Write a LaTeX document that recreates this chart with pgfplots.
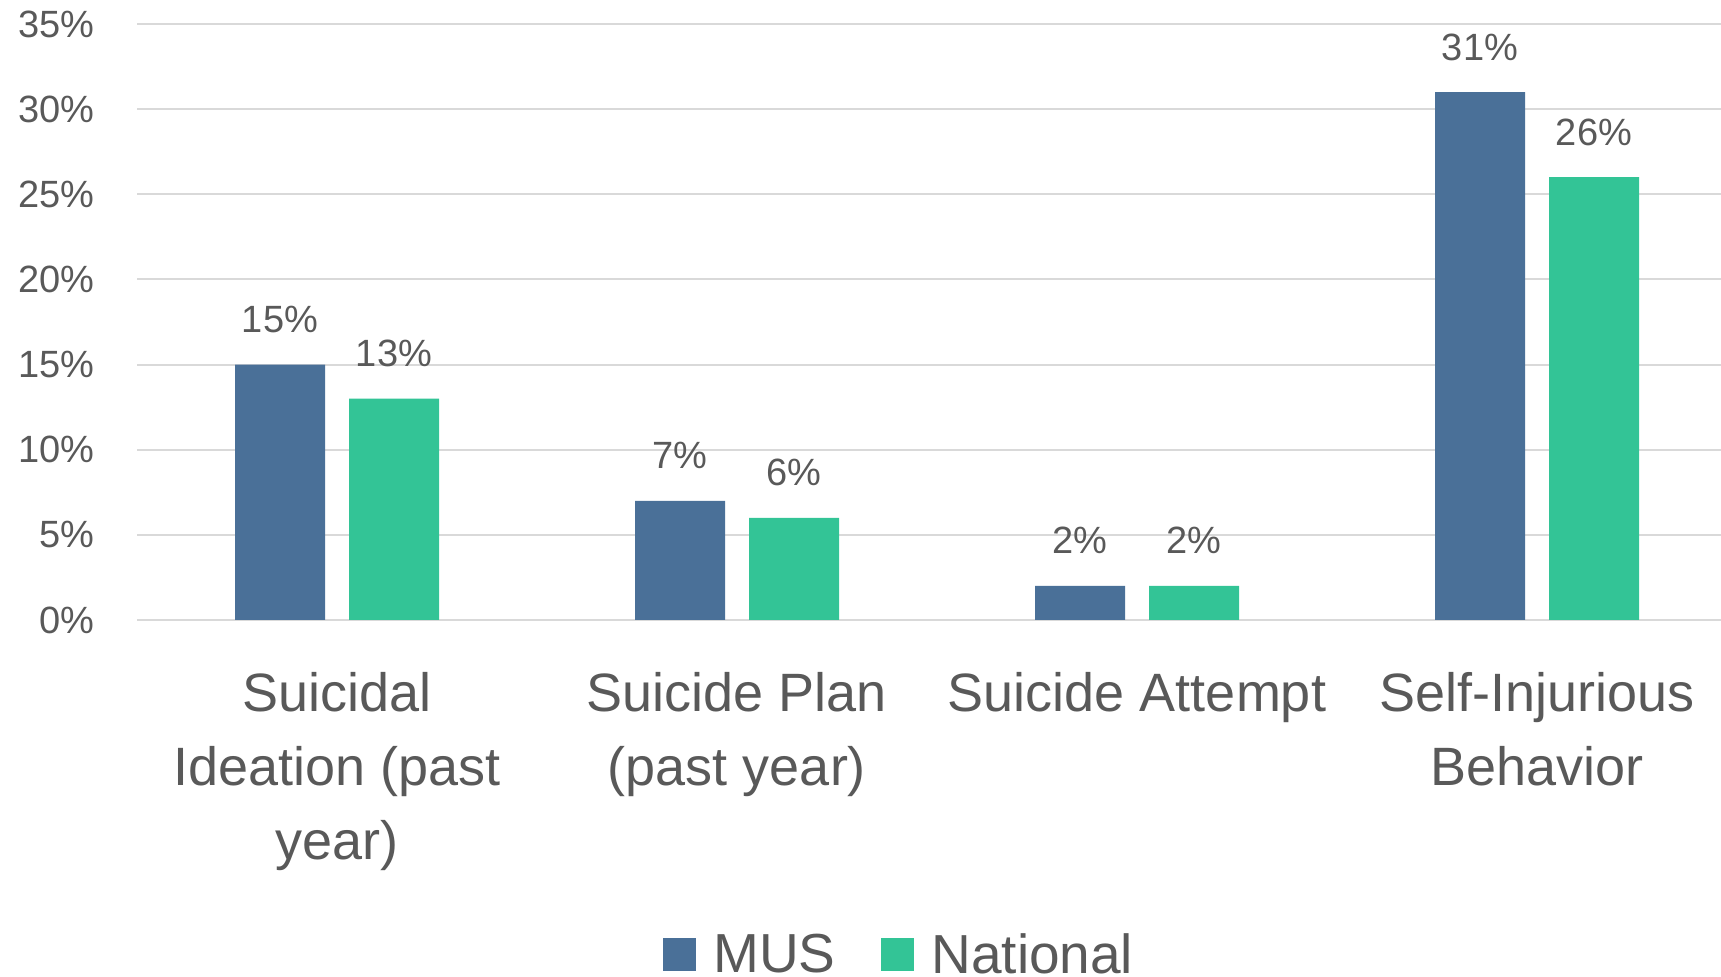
\documentclass[border=0pt]{standalone}
\usepackage{pgfplots}
\pgfplotsset{compat=1.18}
\usepackage{fontspec}
\setmainfont{Liberation Sans}
\definecolor{mus}{HTML}{4A7098}
\definecolor{nat}{HTML}{33C496}
\definecolor{txt}{HTML}{595959}
\definecolor{grd}{HTML}{D9D9D9}
\begin{document}
\begin{tikzpicture}
\path[use as bounding box] (0,0) rectangle (860.5pt,488.5pt);
\begin{axis}[
  at={(68.5pt,178.5pt)}, anchor=south west,
  scale only axis, width=800pt, height=298pt,
  xmin=-0.5, xmax=3.5, ymin=0, ymax=35,
  ybar=12pt, bar width=45pt,
  xtick={0,1,2,3},
  xticklabels={{Suicidal\\Ideation (past\\year)},{Suicide Plan\\(past year)},{Suicide Attempt},{Self-Injurious\\Behavior}},
  ytick={0,5,10,15,20,25,30,35},
  yticklabels={0\%,5\%,10\%,15\%,20\%,25\%,30\%,35\%},
  ymajorgrids, grid style={grd, line width=1pt},
  axis line style={draw=none}, major tick length=0pt,
  tick style={draw=none},
  yticklabel style={font=\fontsize{19}{23}\selectfont, text=txt, anchor=east, inner sep=0pt, xshift=-21pt},
  xticklabel style={font=\fontsize{27}{37}\selectfont, text=txt, align=center, anchor=north, inner sep=0pt, yshift=-26pt},
  nodes near coords={\pgfmathprintnumber[assume math mode=true]{\pgfplotspointmeta}\%},
  every node near coord/.append style={font=\fontsize{19}{23}\selectfont, text=txt, anchor=base, inner sep=0pt, yshift=16pt},
  clip=false,
  legend columns=2,
  legend style={at={(0.477,-0.562)}, anchor=center, draw=none, fill=none,
    font=\fontsize{27.5}{33}\selectfont, text=txt,
    /tikz/every odd column/.append style={column sep=6.5pt},
    /tikz/every even column/.append style={column sep=21pt}},
]
\addplot[fill=mus, draw=none, legend image code/.code={\fill[mus] (0pt,-8.25pt) rectangle (16.5pt,8.25pt);}] coordinates {(0,15) (1,7) (2,2) (3,31)};
\addlegendentry{MUS}
\addplot[fill=nat, draw=none, legend image code/.code={\fill[nat] (0pt,-8.25pt) rectangle (16.5pt,8.25pt);}] coordinates {(0,13) (1,6) (2,2) (3,26)};
\addlegendentry{National}
\end{axis}
\end{tikzpicture}
\end{document}
